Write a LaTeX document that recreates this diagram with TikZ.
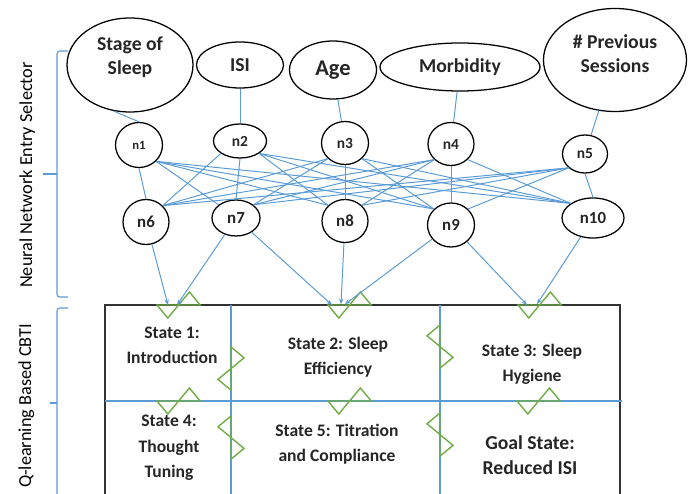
\documentclass[tikz,border=0pt]{standalone}
\usepackage{fontspec}
\setmainfont{Carlito}
\usetikzlibrary{positioning,arrows.meta,shapes.geometric}
\definecolor{azul}{RGB}{91,155,213}
\definecolor{verde}{RGB}{112,173,71}
\definecolor{tinta}{RGB}{38,38,38}
\newcommand{\zigzag}[3]{%
  \draw[zig, shift={#1}, rotate=#2, yscale=#3]
    (0,0) -- (0.27,-0.325) -- (0.54,0) -- (0.81,0.325) -- (1.08,0) -- cycle;}

\begin{document}
\begin{tikzpicture}[
  entrada/.style={ellipse, draw=black, line width=0.9pt, text=tinta,
    font=\bfseries\fontsize{14}{17}\selectfont, align=center, inner sep=0pt},
  neurona/.style={ellipse, draw=black, line width=0.9pt, text=tinta,
    font=\bfseries\fontsize{#1}{#1}\selectfont, inner sep=0pt},
  neurona/.default=12,
  enlace/.style={draw=azul, line width=0.7pt},
  flecha/.style={enlace, -{Stealth[length=1.4mm,width=1.1mm]}},
  zig/.style={draw=verde, line width=1pt},
  estado/.style={font=\bfseries\fontsize{12.5}{18}\selectfont, align=center,
    text=tinta},
  llave/.style={draw=azul, line width=0.8pt, rounded corners=2pt},
  lado/.style={font=\fontsize{13}{15}\selectfont, rotate=90, text=black}
]
\clip (0,0) rectangle (17.35,12.325);
% Entradas
\node[entrada, minimum width=3.15cm, minimum height=2.35cm, text depth=0.45cm] (e1) at (3.25,10.70) {Stage of\\Sleep};
\node[entrada, minimum width=2.175cm, minimum height=1.15cm] (e2) at (6.00,10.70) {ISI};
\node[entrada, minimum width=2.175cm, minimum height=1.45cm,
  font=\bfseries\fontsize{16}{19}\selectfont] (e3) at (8.325,10.575) {Age};
\node[entrada, minimum width=4.0cm, minimum height=1.2cm] (e4) at (11.50,10.65) {Morbidity};
\node[entrada, minimum width=3.575cm, minimum height=2.575cm, text depth=0.32cm] (e5) at (15.375,10.825) {\# Previous\\Sessions};
% Neuronas
\node[neurona=9, minimum width=1.175cm, minimum height=1.125cm] (n1) at (3.475,8.70) {n1};
\node[neurona=11, minimum width=1.325cm, minimum height=0.85cm] (n2) at (6.00,8.80) {n2};
\node[neurona=11, minimum width=1.175cm, minimum height=1.075cm] (n3) at (8.625,8.75) {n3};
\node[neurona=11, minimum width=1.15cm, minimum height=1.075cm] (n4) at (11.275,8.725) {n4};
\node[neurona=11, minimum width=1.125cm, minimum height=0.95cm] (n5) at (14.625,8.475) {n5};
\node[neurona, minimum width=1.15cm, minimum height=1.125cm] (n6) at (3.65,6.775) {n6};
\node[neurona, minimum width=1.2cm, minimum height=0.9cm] (n7) at (5.90,6.875) {n7};
\node[neurona, minimum width=1.15cm, minimum height=1.075cm] (n8) at (8.625,6.80) {n8};
\node[neurona, minimum width=1.175cm, minimum height=1.1cm] (n9) at (11.275,6.70) {n9};
\node[neurona, minimum width=1.55cm, minimum height=1.0cm] (n10) at (14.825,6.875) {n10};
% Conexiones
\draw[enlace] (e1.-110) -- (n1.north);
\foreach \i in {2,...,5}
  \draw[enlace] (e\i) -- (n\i);
\foreach \i in {1,...,5}
  \foreach \j in {6,...,10}{
    \pgfmathtruncatemacro\k{\j-5}
    \ifnum\k=\i \draw[enlace] (n\i.south) -- (n\j.north);
    \else\ifnum\k>\i \draw[enlace] (n\i.south east) -- (n\j.north west);
    \else \draw[enlace] (n\i.south west) -- (n\j.north east);
    \fi\fi}
% Estados
\draw[black!80, line width=1pt] (2.625,-0.5) -- (2.625,4.70) -- (15.50,4.70) -- (15.50,-0.5);
\draw[enlace, line width=0.8pt] (2.625,2.30) -- (15.55,2.30);
\draw[enlace, line width=0.8pt] (5.775,4.70) -- (5.775,-0.5);
\draw[enlace, line width=0.8pt] (11.0,4.70) -- (11.0,-0.5);
\node[estado] (s1) at (4.30,3.70) {State 1:\\Introduction};
\node[estado] (s2) at (8.45,3.40) {State 2: Sleep\\Efficiency};
\node[estado] (s3) at (13.30,3.225) {State 3: Sleep\\Hygiene};
\node[estado] (s4) at (4.225,1.125) {State 4:\\Thought\\Tuning};
\node[estado] (s5) at (8.425,1.225) {State 5: Titration\\and Compliance};
\node[estado, font=\bfseries\fontsize{14}{18}\selectfont] (s6) at (13.25,0.95) {Goal State:\\Reduced ISI};
% Transiciones
\foreach \p/\g/\s in {(3.925,4.70)/0/1, (8.20,4.70)/0/1, (12.95,4.70)/0/1,
    (3.925,2.30)/0/1, (8.20,2.30)/0/1, (12.925,2.30)/0/1,
    (5.775,3.65)/-90/-1, (5.775,1.925)/-90/1, (11.0,4.20)/-90/1, (11.0,2.0)/-90/1}
  \zigzag{\p}{\g}{\s};
% Entradas a estados
\coordinate (p1) at (4.20,4.70);
\coordinate (p2) at (4.425,4.70);
\coordinate (p3) at (8.30,4.70);
\coordinate (p4) at (8.525,4.72);
\coordinate (p5) at (8.625,4.72);
\coordinate (p6) at (13.175,4.70);
\coordinate (p7) at (13.425,4.72);
\draw[flecha] (n6) -- (p1);
\draw[flecha] (n7) -- (p2);
\draw[flecha] (n7) -- (p3);
\draw[flecha] (n8) -- (p4);
\draw[flecha] (n9) -- (p5);
\draw[flecha] (n9) -- (p6);
\draw[flecha] (n10) -- (p7);
% Llaves
\draw[llave] (1.70,11.05) -- (1.425,11.05) -- (1.425,4.90) -- (1.70,4.90);
\draw[llave] (1.425,7.975) -- (1.075,7.975);
\draw[llave] (1.70,4.625) -- (1.425,4.625) -- (1.425,-0.5);
\draw[llave] (1.425,2.25) -- (1.25,2.25);
\node[lado] (t1) at (0.68,7.95) {Neural Network Entry Selector};
\node[lado] (t2) at (0.66,2.175) {Q-learning Based CBTI};
\end{tikzpicture}
\end{document}
